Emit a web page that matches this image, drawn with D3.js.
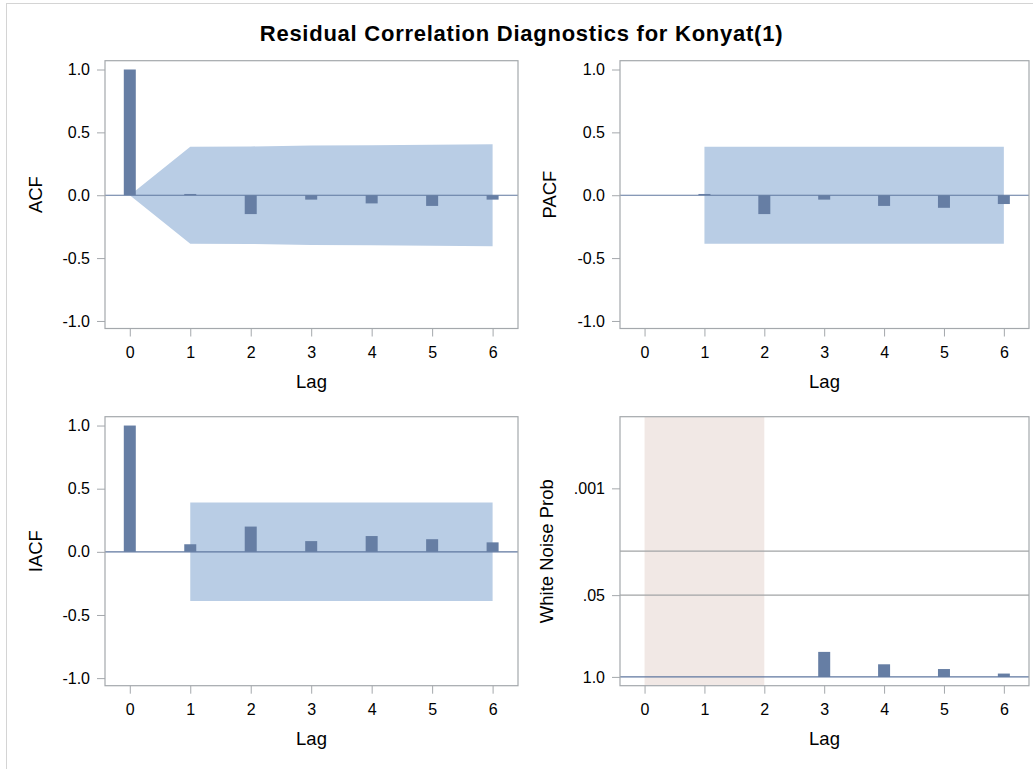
<!DOCTYPE html>
<html><head><meta charset="utf-8">
<script src="https://cdn.jsdelivr.net/npm/d3@7"></script>
<style>
body{margin:0;background:#fff;}
text{font-family:"Liberation Sans",Arial,sans-serif;fill:#000;}
</style>
</head><body>
<svg id="c" width="1033" height="769"></svg>
<script>
// ---------- data ----------
const chartTitle = "Residual Correlation Diagnostics for Konyat(1)";
const lagTicks = [0, 1, 2, 3, 4, 5, 6];

const acfLags = [0, 1, 2, 3, 4, 5, 6];
const acfValues = [1.0, 0.01, -0.15, -0.035, -0.065, -0.085, -0.035];
const acfBandLags = [0, 1, 2, 3, 4, 5, 6];
const acfBand = [0, 0.385, 0.388, 0.395, 0.398, 0.402, 0.405];

const pacfLags = [1, 2, 3, 4, 5, 6];
const pacfValues = [0.01, -0.15, -0.035, -0.085, -0.10, -0.07];
const pacfBandLags = [1, 6];
const pacfBand = [0.385, 0.385];

const iacfLags = [0, 1, 2, 3, 4, 5, 6];
const iacfValues = [1.0, 0.06, 0.20, 0.085, 0.125, 0.10, 0.075];
const iacfBandLags = [1, 6];
const iacfBand = [0.39, 0.39];

const wnLags = [3, 4, 5, 6];
const wnProb = [0.40, 0.63, 0.75, 0.885];
const wnMissingLags = [0, 2];
const wnRefProbs = [0.05, 0.01];

const corrTicks = [1, 0.5, 0, -0.5, -1];
const corrTickLabels = ["1.0", "0.5", "0.0", "-0.5", "-1.0"];
const wnTicks = [0.001, 0.05, 1.0];
const wnTickLabels = [".001", ".05", "1.0"];

// ---------- style ----------
const C = {
  bar: "#667ea4", band: "#b9cde5", zero: "#5f779f", frame: "#a4a8ac",
  shade: "#f1e8e5", ref: "#a2a4a6", text: "#000"
};
const TICK_FS = 16, LABEL_FS = 18.5;

const svg = d3.select("#c");
svg.append("rect").attr("x", 6.5).attr("y", 3.5).attr("width", 1100).attr("height", 900)
  .attr("fill", "none").attr("stroke", "#d4d4d4");

svg.append("text").attr("x", 521.5).attr("y", 41).attr("text-anchor", "middle")
  .attr("font-weight", "bold").attr("font-size", 22).attr("letter-spacing", 0.75)
  .text(chartTitle);

const cols = [[105, 518], [620, 1029]];
const rows = [[60.7, 328.5], [416.7, 685.7]];

function makeX(col) {
  return d3.scaleLinear().domain([-0.41, 6.42]).range(col);
}
function corrY(row) {
  return d3.scaleLinear().domain([-1.06, 1.07]).range([row[1], row[0]]);
}

function drawAxes(g, x, y, yTicks, yLabels, box, yTitle, yTitleX) {
  const ax = g.append("g").attr("transform", `translate(0,${box.y1})`)
    .call(d3.axisBottom(x).tickValues(lagTicks).tickFormat(d3.format("d")).tickSize(8).tickPadding(10));
  const ay = g.append("g").attr("transform", `translate(${box.x0},0)`)
    .call(d3.axisLeft(y).tickValues(yTicks).tickFormat((d, i) => yLabels[i]).tickSize(8).tickPadding(7));
  [ax, ay].forEach(a => {
    a.select(".domain").remove();
    a.selectAll("line").attr("stroke", C.frame);
    a.selectAll("text").attr("font-size", TICK_FS).attr("font-family", '"Liberation Sans",Arial,sans-serif').attr("fill", C.text);
  });
  g.append("rect").attr("x", box.x0).attr("y", box.y0)
    .attr("width", box.x1 - box.x0).attr("height", box.y1 - box.y0)
    .attr("fill", "none").attr("stroke", C.frame).attr("stroke-width", 1.2);
  g.append("text").attr("x", (box.x0 + box.x1) / 2).attr("y", box.y1 + 59)
    .attr("text-anchor", "middle").attr("font-size", LABEL_FS).text("Lag");
  g.append("text").attr("transform", `translate(${yTitleX},${(box.y0 + box.y1) / 2}) rotate(-90)`)
    .attr("text-anchor", "middle").attr("font-size", LABEL_FS).text(yTitle);
}

function corrPanel(col, row, lags, vals, bandLags, band, yTitle, yTitleX) {
  const g = svg.append("g");
  const x = makeX(col), y = corrY(row);
  const box = {x0: col[0], x1: col[1], y0: row[0], y1: row[1]};
  const bandData = bandLags.map((l, i) => ({l, v: band[i]}));
  g.append("path").datum(bandData)
    .attr("d", d3.area().x(d => x(d.l)).y0(d => y(-d.v)).y1(d => y(d.v)))
    .attr("fill", C.band);
  g.append("line").attr("x1", box.x0).attr("x2", box.x1).attr("y1", y(0)).attr("y2", y(0))
    .attr("stroke", C.zero).attr("stroke-width", 1.2);
  g.selectAll(".bar").data(lags.map((l, i) => ({l, v: vals[i]}))).join("rect")
    .attr("x", d => x(d.l) - 6).attr("width", 12)
    .attr("y", d => y(Math.max(0, d.v)))
    .attr("height", d => Math.abs(y(d.v) - y(0)))
    .attr("fill", C.bar);
  drawAxes(g, x, y, corrTicks, corrTickLabels, box, yTitle, yTitleX);
}

corrPanel(cols[0], rows[0], acfLags, acfValues, acfBandLags, acfBand, "ACF", 42);
corrPanel(cols[1], rows[0], pacfLags, pacfValues, pacfBandLags, pacfBand, "PACF", 556);
corrPanel(cols[0], rows[1], iacfLags, iacfValues, iacfBandLags, iacfBand, "IACF", 42);

// White noise panel
(function () {
  const col = cols[1], row = rows[1];
  const g = svg.append("g");
  const x = makeX(col);
  const y = d3.scaleLog().domain([Math.pow(10, 0.14), Math.pow(10, -4.14)]).range([row[1], row[0]]);
  const box = {x0: col[0], x1: col[1], y0: row[0], y1: row[1]};
  g.append("rect").attr("x", x(wnMissingLags[0])).attr("width", x(wnMissingLags[1]) - x(wnMissingLags[0]))
    .attr("y", box.y0).attr("height", box.y1 - box.y0).attr("fill", C.shade);
  g.selectAll(".ref").data(wnRefProbs).join("line")
    .attr("x1", box.x0).attr("x2", box.x1).attr("y1", d => y(d)).attr("y2", d => y(d))
    .attr("stroke", C.ref).attr("stroke-width", 1.2);
  g.selectAll(".bar").data(wnLags.map((l, i) => ({l, p: wnProb[i]}))).join("rect")
    .attr("x", d => x(d.l) - 6).attr("width", 12)
    .attr("y", d => y(d.p)).attr("height", d => y(1) - y(d.p))
    .attr("fill", C.bar);
  g.append("line").attr("x1", box.x0).attr("x2", box.x1).attr("y1", y(1)).attr("y2", y(1))
    .attr("stroke", C.zero).attr("stroke-width", 1.2);
  drawAxes(g, x, y, wnTicks, wnTickLabels, box, "White Noise Prob", 553);
})();
</script>
</body></html>
